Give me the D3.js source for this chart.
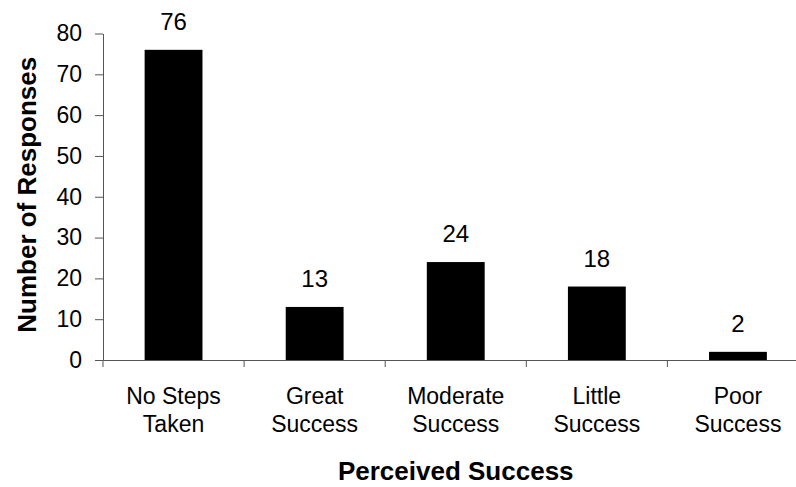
<!DOCTYPE html>
<html>
<head>
<meta charset="utf-8">
<script src="https://cdn.jsdelivr.net/npm/d3@7"></script>
<style>
  html, body { margin: 0; padding: 0; background: #fff; }
  svg { display: block; }
  text { font-family: "Liberation Sans", Arial, Helvetica, sans-serif; fill: #000; }
</style>
</head>
<body>
<svg id="chart" width="796" height="487"></svg>
<script>
// Responses by perceived success
const categories = ["No Steps Taken", "Great Success", "Moderate Success", "Little Success", "Poor Success"];
const categoryLines = [["No Steps", "Taken"], ["Great", "Success"], ["Moderate", "Success"], ["Little", "Success"], ["Poor", "Success"]];
const responses = [76, 13, 24, 18, 2];
const yTicks = [0, 10, 20, 30, 40, 50, 60, 70, 80];

const svg = d3.select("#chart");
const plot = { left: 103, right: 808.5, top: 33.5, bottom: 360 };

const x = d3.scaleBand()
  .domain(categories)
  .range([plot.left, plot.right])
  .paddingInner(0.59)
  .paddingOuter(0.295);

const y = d3.scaleLinear().domain([0, 80]).range([plot.bottom, plot.top]);

const axisColor = "#555";

// Bars
svg.append("g").selectAll("rect")
  .data(responses)
  .join("rect")
  .attr("x", (d, i) => x(categories[i]))
  .attr("width", x.bandwidth())
  .attr("y", d => y(d))
  .attr("height", d => y(0) - y(d))
  .attr("fill", "#000");

// Value labels
svg.append("g").selectAll("text")
  .data(responses)
  .join("text")
  .attr("x", (d, i) => x(categories[i]) + x.bandwidth() / 2)
  .attr("y", d => y(d) - 20)
  .attr("text-anchor", "middle")
  .attr("font-size", 24)
  .text(d => d);

// Y axis
const yAxis = svg.append("g")
  .attr("transform", `translate(${plot.left},0)`)
  .call(d3.axisLeft(y).tickValues(yTicks).tickSize(8).tickSizeOuter(0).tickPadding(13));
yAxis.selectAll("path, line").attr("stroke", axisColor);
yAxis.selectAll("text")
  .attr("font-size", 23)
  .attr("font-family", "Liberation Sans, Arial, sans-serif")
  .attr("fill", "#000");

// X axis line with boundary ticks between categories
const xAxis = svg.append("g")
  .attr("transform", `translate(0,${plot.bottom})`)
  .call(d3.axisBottom(x).tickSize(0).tickSizeOuter(0).tickFormat(""));
xAxis.selectAll("path").attr("stroke", axisColor);
xAxis.selectAll(".tick").remove();

const boundaries = d3.range(categories.length + 1).map(i => plot.left + i * x.step());
xAxis.selectAll("line.boundary")
  .data(boundaries)
  .join("line")
  .attr("class", "boundary")
  .attr("x1", d => d).attr("x2", d => d)
  .attr("y1", 0).attr("y2", 7)
  .attr("stroke", axisColor);

// Category labels (two lines each)
const catLabels = svg.append("g").selectAll("text")
  .data(categories)
  .join("text")
  .attr("text-anchor", "middle")
  .attr("font-size", 23);
catLabels.each(function (c, i) {
  const t = d3.select(this);
  const cx = x(c) + x.bandwidth() / 2;
  categoryLines[i].forEach((line, j) => {
    t.append("tspan").attr("x", cx).attr("y", 404 + j * 28).text(line);
  });
});

// Axis titles
svg.append("text")
  .attr("x", (plot.left + plot.right) / 2)
  .attr("y", 480)
  .attr("text-anchor", "middle")
  .attr("font-size", 26)
  .attr("font-weight", "bold")
  .text("Perceived Success");

svg.append("text")
  .attr("transform", `translate(36,${(plot.top + plot.bottom) / 2 - 2}) rotate(-90)`)
  .attr("text-anchor", "middle")
  .attr("font-size", 26)
  .attr("font-weight", "bold")
  .text("Number of Responses");
</script>
</body>
</html>
